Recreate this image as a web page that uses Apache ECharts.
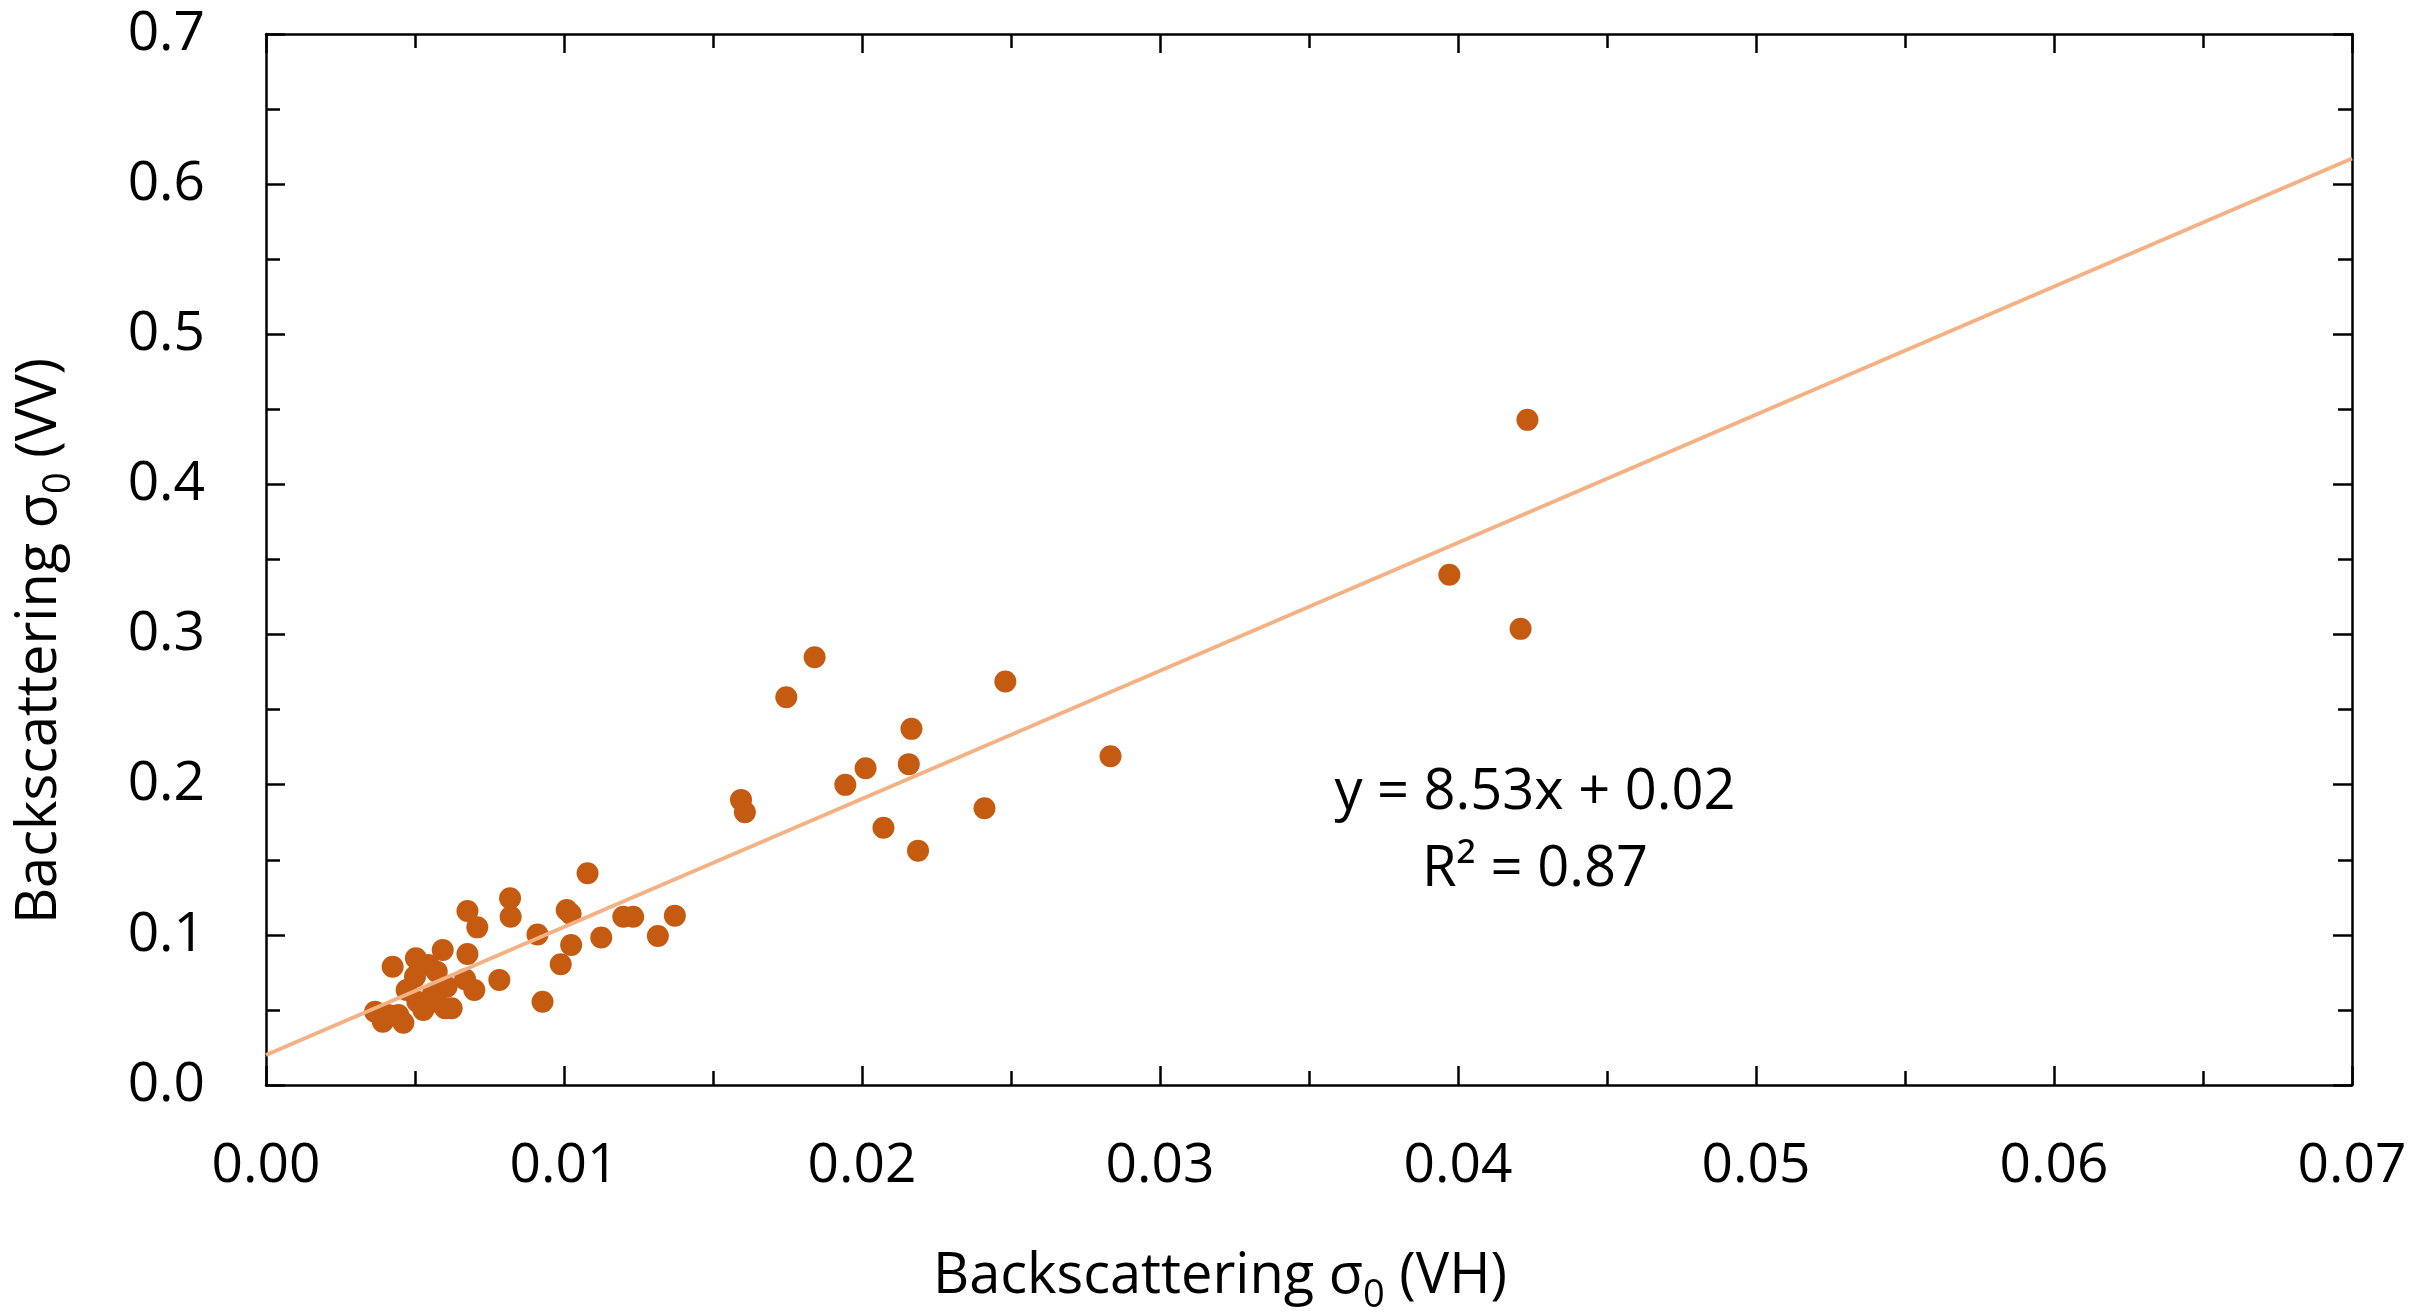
<!DOCTYPE html>
<html>
<head>
<meta charset="utf-8">
<script src="https://cdn.jsdelivr.net/npm/echarts@6/dist/echarts.min.js"></script>
<style>
  html, body { margin: 0; padding: 0; background: #fff; }
  #chart { width: 2415px; height: 1312px; }
</style>
</head>
<body>
<div id="chart"></div>
<script>
// Backscattering: VH (x) against VV (y) for each sample
const vhValues = [
  0.04233, 0.03971, 0.04210, 0.02834, 0.02481, 0.02411, 0.02166, 0.02157,
  0.02188, 0.02072, 0.02012, 0.01944, 0.01841, 0.01746, 0.01594, 0.01607,
  0.01372, 0.01315, 0.01232, 0.01199, 0.01125, 0.01079, 0.01009, 0.01022,
  0.01024, 0.00989, 0.00911, 0.00928, 0.00819, 0.00821, 0.00783, 0.00709,
  0.00676, 0.00676, 0.00699, 0.00668, 0.00593, 0.00606, 0.00601, 0.00623,
  0.00570, 0.00561, 0.00573, 0.00545, 0.00503, 0.00500, 0.00472, 0.00528,
  0.00508, 0.00425, 0.00366, 0.00392, 0.00410, 0.00444, 0.00461
];
const vvValues = [
  0.4430, 0.3398, 0.3038, 0.2190, 0.2687, 0.1843, 0.2372, 0.2137,
  0.1561, 0.1714, 0.2110, 0.1999, 0.2849, 0.2583, 0.1899, 0.1817,
  0.1128, 0.0993, 0.1121, 0.1121, 0.0983, 0.1410, 0.1166, 0.1140,
  0.0932, 0.0804, 0.1002, 0.0555, 0.1244, 0.1120, 0.0700, 0.1050,
  0.1159, 0.0873, 0.0633, 0.0704, 0.0899, 0.0655, 0.0511, 0.0511,
  0.0555, 0.0611, 0.0755, 0.0799, 0.0844, 0.0722, 0.0633, 0.0500,
  0.0555, 0.0788, 0.0488, 0.0422, 0.0466, 0.0466, 0.0415
];

// Linear fit shown on the chart
const fitSlope = 8.53;
const fitIntercept = 0.02;
const fitR2 = 0.87;
const fitRange = [0, 0.07];

// Axis ranges
const xRange = [0, 0.07];
const xStep = 0.01;
const yRange = [0, 0.7];
const yStep = 0.1;

const FONT = '"Open Sans", "Noto Sans", sans-serif';
const INK = '#000000';
const DOT = '#C55A11';
const FIT = '#F4B183';

const points = vhValues.map((v, i) => [v, vvValues[i]]);
const fitLine = fitRange.map(x => [x, fitSlope * x + fitIntercept]);

function axisBase(pos, showLabels, digits, margin) {
  const horizontal = pos === 'bottom' || pos === 'top';
  return {
    type: 'value',
    position: pos,
    min: horizontal ? xRange[0] : yRange[0],
    max: horizontal ? xRange[1] : yRange[1],
    interval: horizontal ? xStep : yStep,
    axisLine: { show: true, onZero: false, lineStyle: { color: INK, width: 2.5 } },
    axisTick: { show: true, inside: true, length: 19, lineStyle: { color: INK, width: 2.5 } },
    minorTick: { show: true, splitNumber: 2, length: 14, lineStyle: { color: INK, width: 2.5 } },
    splitLine: { show: false },
    minorSplitLine: { show: false },
    axisLabel: {
      show: showLabels,
      margin: margin,
      color: INK,
      fontFamily: FONT,
      fontSize: 55,
      showMinLabel: true,
      showMaxLabel: true,
      formatter: v => v.toFixed(digits)
    }
  };
}

const titleRich = {
  a: { fontFamily: FONT, fontSize: 56, color: INK },
  s: { fontFamily: FONT, fontSize: 38, color: INK, padding: [38, 0, 0, 0] }
};

const chart = echarts.init(document.getElementById('chart'), null, { renderer: 'canvas' });
chart.setOption({
  animation: false,
  backgroundColor: '#ffffff',
  grid: { left: 266, top: 34, right: 63, bottom: 227, containLabel: false },
  xAxis: [
    axisBase('bottom', true, 2, 54),
    axisBase('top', false, 2, 54)
  ],
  yAxis: [
    axisBase('left', true, 1, 61),
    axisBase('right', false, 1, 61)
  ],
  series: [
    {
      type: 'scatter',
      data: points,
      symbol: 'circle',
      symbolSize: 22,
      itemStyle: { color: DOT, opacity: 1 },
      z: 2
    },
    {
      type: 'line',
      data: fitLine,
      showSymbol: false,
      symbol: 'none',
      lineStyle: { color: FIT, width: 4 },
      z: 3
    }
  ],
  graphic: [
    {
      type: 'text',
      x: 1220, y: 1277,
      style: {
        text: '{a|Backscattering σ}{s|0}{a| (VH)}',
        rich: titleRich,
        align: 'center',
        verticalAlign: 'middle'
      }
    },
    {
      type: 'text',
      x: 40, y: 641,
      rotation: Math.PI / 2,
      style: {
        text: '{a|Backscattering σ}{s|0}{a| (VV)}',
        rich: titleRich,
        align: 'center',
        verticalAlign: 'middle'
      }
    },
    {
      type: 'text',
      x: 1535, y: 793,
      style: {
        text: 'y = ' + fitSlope.toFixed(2) + 'x + ' + fitIntercept.toFixed(2),
        fontFamily: FONT, fontSize: 56, fill: INK,
        align: 'center', verticalAlign: 'middle'
      }
    },
    {
      type: 'text',
      x: 1535, y: 870,
      style: {
        text: 'R² = ' + fitR2.toFixed(2),
        fontFamily: FONT, fontSize: 56, fill: INK,
        align: 'center', verticalAlign: 'middle'
      }
    }
  ]
});
</script>
</body>
</html>
